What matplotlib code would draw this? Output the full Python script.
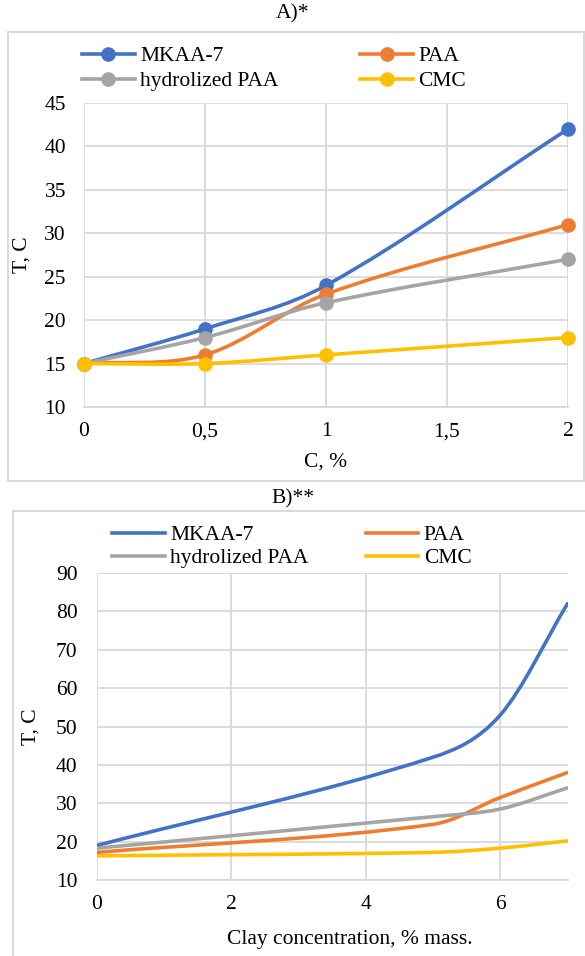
import matplotlib
matplotlib.use("Agg")
import matplotlib.pyplot as plt
from matplotlib.path import Path
from matplotlib.patches import PathPatch, Rectangle
from matplotlib.lines import Line2D

plt.rcParams['font.family'] = ['Liberation Serif', 'DejaVu Serif']

# ---- data ----
series_names = ["MKAA-7", "PAA", "hydrolized PAA", "CMC"]
colors = ["#4472C4", "#ED7D31", "#A5A5A5", "#FFC000"]

a_x = [0, 0.5, 1, 2]
a_mkaa = [15, 19, 24, 42]
a_paa = [15, 16, 23, 31]
a_hpaa = [15, 18, 22, 27]
a_cmc = [15, 15, 16, 18]
a_xticks = [0, 0.5, 1, 1.5, 2]
a_xticklabels = ["0", "0,5", "1", "1,5", "2"]
a_yticks = [10, 15, 20, 25, 30, 35, 40, 45]

b_x = [0, 5, 6, 7]
b_mkaa = [19, 42, 53, 82]
b_paa = [17.2, 24.5, 31.5, 38]
b_hpaa = [18.3, 26.5, 28.5, 34]
b_cmc = [16.3, 17.2, 18.3, 20.2]
b_xticks = [0, 2, 4, 6]
b_yticks = [10, 20, 30, 40, 50, 60, 70, 80, 90]


def smooth_path(xs, ys):
    """Smoothed line: cubic Hermite/Bezier segments through the data points."""
    n = len(xs)
    m = []
    for i in range(n):
        if i == 0:
            m.append((ys[1] - ys[0]) / (xs[1] - xs[0]))
        elif i == n - 1:
            m.append((ys[-1] - ys[-2]) / (xs[-1] - xs[-2]))
        else:
            m.append((ys[i + 1] - ys[i - 1]) / (xs[i + 1] - xs[i - 1]))
    verts = [(xs[0], ys[0])]
    codes = [Path.MOVETO]
    for i in range(n - 1):
        dx = xs[i + 1] - xs[i]
        c1 = (xs[i] + dx / 3.0, ys[i] + m[i] * dx / 3.0)
        c2 = (xs[i + 1] - dx / 3.0, ys[i + 1] - m[i + 1] * dx / 3.0)
        verts += [c1, c2, (xs[i + 1], ys[i + 1])]
        codes += [Path.CURVE4] * 3
    return Path(verts, codes)


W, H = 585, 956
fig = plt.figure(figsize=(W / 100, H / 100), dpi=100)

grid_c = "#D9D9D9"
FS = 15.5

# outer chart borders
fig.patches.append(Rectangle((8 / W, 1 - 481 / H), (584 - 8) / W, (481 - 32) / H,
                             transform=fig.transFigure, fill=False, ec=grid_c, lw=1.5))
fig.patches.append(Rectangle((13 / W, -0.01), 0.99, 1 - 511 / H + 0.01,
                             transform=fig.transFigure, fill=False, ec=grid_c, lw=1.5))

fig.text(293 / W, 1 - 14 / H, "A)*", ha="center", va="center", fontsize=FS)
fig.text(293 / W, 1 - 499 / H, "B)**", ha="center", va="center", fontsize=FS)


def style_ax(ax):
    for s in ["top", "right", "left"]:
        ax.spines[s].set_visible(False)
    ax.spines["bottom"].set_color(grid_c)
    ax.spines["bottom"].set_linewidth(1.3)
    ax.grid(True, color=grid_c, lw=1.3)
    ax.set_axisbelow(True)
    ax.tick_params(length=0, labelsize=FS)


def legend_order(items):
    # row-wise fill for a 2-column legend
    return [items[0], items[2], items[1], items[3]]


# ---- chart A ----
axA = fig.add_axes([84 / W, 1 - 407 / H, (568 - 84) / W, (407 - 103) / H])
style_ax(axA)
for ys, c in zip([a_mkaa, a_paa, a_hpaa, a_cmc], colors):
    axA.add_patch(PathPatch(smooth_path(a_x, ys), fill=False, ec=c, lw=2.6,
                            capstyle="round", joinstyle="round"))
    axA.plot(a_x, ys, ls="none", marker="o", ms=9.5, color=c, clip_on=False)
axA.set_xlim(0, 2)
axA.set_ylim(10, 45)
axA.set_xticks(a_xticks)
axA.set_xticklabels(a_xticklabels)
axA.set_yticks(a_yticks)
axA.tick_params(axis="y", pad=13)
axA.tick_params(axis="x", pad=11)
axA.set_xlabel("C, %", fontsize=FS, labelpad=8)
axA.set_ylabel("T, C", fontsize=FS, labelpad=9)

handlesA = [Line2D([], [], color=c, lw=2.6, marker="o", ms=9.5) for c in colors]
axA.legend(legend_order(handlesA), legend_order(series_names), ncol=2, loc="upper left",
           bbox_to_anchor=(82 / W, 1 - 46 / H), bbox_transform=fig.transFigure,
           frameon=False, fontsize=FS, handlelength=2.45, handletextpad=0.25,
           columnspacing=3.8, labelspacing=0.24, borderaxespad=0, borderpad=0)

# ---- chart B ----
axB = fig.add_axes([97 / W, 1 - 880 / H, (567.5 - 97) / W, (880 - 573) / H])
style_ax(axB)
for ys, c in zip([b_mkaa, b_paa, b_hpaa, b_cmc], colors):
    axB.add_patch(PathPatch(smooth_path(b_x, ys), fill=False, ec=c, lw=2.6,
                            capstyle="round", joinstyle="round"))
axB.set_xlim(0, 7)
axB.set_ylim(10, 90)
axB.set_xticks(b_xticks)
axB.set_yticks(b_yticks)
axB.tick_params(axis="y", pad=14)
axB.tick_params(axis="x", pad=11)
axB.set_xlabel("Clay concentration, % mass.", fontsize=FS)
axB.xaxis.set_label_coords((350 - 97) / (567.5 - 97), -50 / 307)
axB.set_ylabel("T, C", fontsize=FS, labelpad=11)

handlesB = [Line2D([], [], color=c, lw=2.6) for c in colors]
axB.legend(legend_order(handlesB), legend_order(series_names), ncol=2, loc="upper left",
           bbox_to_anchor=(112 / W, 1 - 525 / H), bbox_transform=fig.transFigure,
           frameon=False, fontsize=FS, handlelength=2.45, handletextpad=0.25,
           columnspacing=2.65, labelspacing=0.15, borderaxespad=0, borderpad=0)

fig.savefig("out.png", dpi=100)
